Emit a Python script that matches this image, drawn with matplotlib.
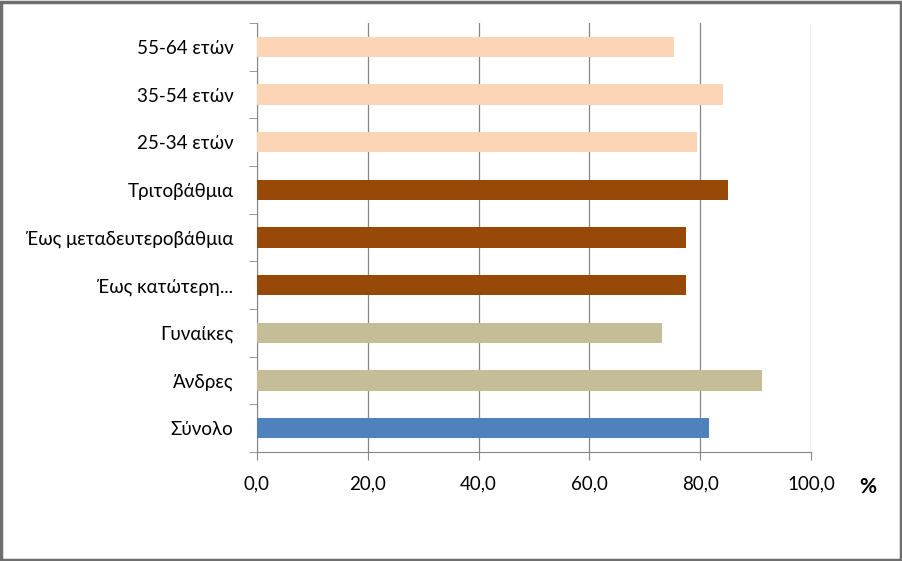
import matplotlib.pyplot as plt
from matplotlib.patches import Rectangle

categories = ["Σύνολο", "Άνδρες", "Γυναίκες", "Έως κατώτερη...",
              "Έως μεταδευτεροβάθμια", "Τριτοβάθμια",
              "25-34 ετών", "35-54 ετών", "55-64 ετών"]
values = [81.6, 91.2, 73.1, 77.4, 77.4, 85.0, 79.4, 84.1, 75.3]
colors = ["#4F81BD", "#C4BD97", "#C4BD97", "#984807", "#984807", "#984807",
          "#FBD5B5", "#FBD5B5", "#FBD5B5"]
xticks = [0, 20, 40, 60, 80, 100]

plt.rcParams['font.family'] = ['Lato', 'DejaVu Sans']

fig = plt.figure(figsize=(9.03, 5.61), dpi=100)
ax = fig.add_axes([257 / 903, 1 - 452 / 561, (811 - 257) / 903, (452 - 23) / 561])

pos = range(len(categories))
ax.barh(pos, values, height=0.42, color=colors, zorder=3)

ax.set_xlim(0, 100)
ax.set_ylim(-0.5, len(categories) - 0.5)
ax.set_xticks(xticks)
ax.set_xticklabels([f"{v:.1f}".replace(".", ",") for v in xticks], fontsize=13.5)
ax.set_yticks(list(pos))
ax.set_yticklabels(categories, fontsize=13.5)
ax.tick_params(axis='y', length=0, pad=17)
ax.tick_params(axis='x', length=6, color="#868686", pad=11)

# category separators on the y axis
ax.set_yticks([i - 0.5 for i in range(len(categories) + 1)], minor=True)
ax.tick_params(axis='y', which='minor', length=6, color="#868686")

ax.grid(axis='x', color="#868686", linewidth=0.9, zorder=0)
for s in ["top", "right"]:
    ax.spines[s].set_visible(False)
for s in ["left", "bottom"]:
    ax.spines[s].set_color("#868686")

fig.text(868 / 903, 1 - 487 / 561, "%", fontsize=15, fontweight='bold',
         ha='center', va='center')

fig.patches.append(Rectangle((0.0015, 0.002), 0.996, 0.995, transform=fig.transFigure,
                             fill=False, edgecolor="#6e6e6e", linewidth=2.5))

fig.savefig("out.png", dpi=100)
